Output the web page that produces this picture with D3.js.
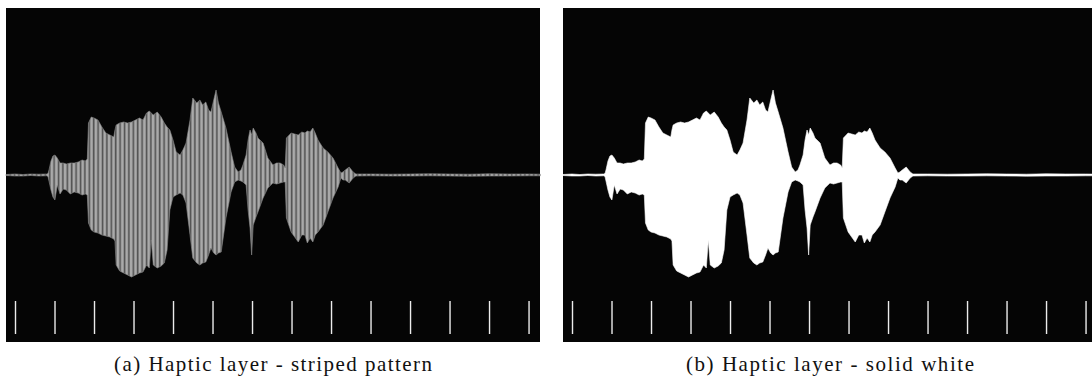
<!DOCTYPE html>
<html>
<head>
<meta charset="utf-8">
<script src="https://cdn.jsdelivr.net/npm/d3@7"></script>
<style>
  html, body { margin: 0; padding: 0; background: #ffffff; }
  svg { display: block; }
</style>
</head>
<body>
<svg id="chart" width="1092" height="378"></svg>
<script>
// ---- data (time in tick units, amplitudes above / below the centre line) ----
const times = [-0.23, 0.0, 0.2, 0.4, 0.6, 0.8, 0.835, 0.86, 0.91, 0.96, 1.01, 1.07, 1.14, 1.22, 1.30, 1.40, 1.50, 1.60, 1.70, 1.78, 1.83,
  1.86, 1.93, 2.00, 2.10, 2.20, 2.30, 2.40, 2.50, 2.53, 2.56, 2.65, 2.75, 2.85, 2.95, 3.05, 3.15, 3.24, 3.33, 3.40, 3.45, 3.50, 3.60,
  3.70, 3.78, 3.85, 3.92, 4.00, 4.08, 4.18, 4.25, 4.33, 4.43, 4.50, 4.60, 4.68, 4.75, 4.83, 4.90, 4.96, 5.03, 5.09, 5.15, 5.22, 5.34,
  5.47, 5.56, 5.65, 5.72, 5.77, 5.85, 5.90, 5.95, 5.99, 6.03, 6.10, 6.15, 6.28, 6.40, 6.53, 6.62, 6.71, 6.80, 6.84, 6.87, 6.99, 7.08,
  7.17, 7.26, 7.34, 7.40, 7.47, 7.54, 7.60, 7.67, 7.80, 7.92, 8.05, 8.18, 8.25, 8.30, 8.36, 8.46, 8.56, 8.63, 9.0, 9.5, 10.0, 10.5,
  11.0, 11.5, 12.0, 12.5, 13.0, 13.3];
const upperAmp = [0.005, 0.01, 0.005, 0.01, 0.008, 0.01, 0.015, 0.05, 0.14, 0.19, 0.20, 0.17, 0.12, 0.12, 0.11, 0.12, 0.12, 0.13, 0.15, 0.14, 0.16,
  0.52, 0.58, 0.57, 0.55, 0.48, 0.42, 0.40, 0.38, 0.45, 0.50, 0.52, 0.53, 0.52, 0.53, 0.55, 0.57, 0.55, 0.62, 0.64, 0.62, 0.60, 0.63,
  0.58, 0.52, 0.48, 0.45, 0.35, 0.23, 0.20, 0.25, 0.32, 0.55, 0.77, 0.72, 0.75, 0.70, 0.73, 0.65, 0.63, 0.75, 0.85, 0.72, 0.63, 0.47,
  0.23, 0.08, 0.03, 0.05, 0.10, 0.20, 0.35, 0.45, 0.40, 0.47, 0.42, 0.37, 0.32, 0.17, 0.10, 0.12, 0.12, 0.10, 0.07, 0.37, 0.42, 0.41,
  0.40, 0.43, 0.42, 0.44, 0.43, 0.47, 0.42, 0.35, 0.27, 0.23, 0.17, 0.07, 0.02, 0.03, 0.05, 0.08, 0.03, 0.01, 0.01, 0.008, 0.01, 0.012,
  0.01, 0.008, 0.012, 0.01, 0.01, 0.008];
const lowerAmp = [0.005, 0.01, 0.01, 0.005, 0.01, 0.008, 0.015, 0.06, 0.15, 0.22, 0.25, 0.10, 0.19, 0.14, 0.15, 0.19, 0.17, 0.18, 0.20, 0.19, 0.20,
  0.48, 0.55, 0.57, 0.58, 0.60, 0.61, 0.62, 0.64, 0.66, 0.90, 0.96, 0.98, 1.00, 1.02, 1.00, 0.98, 0.97, 0.90, 0.93, 0.65, 0.90, 0.93,
  0.91, 0.88, 0.75, 0.35, 0.22, 0.20, 0.18, 0.20, 0.28, 0.60, 0.83, 0.88, 0.90, 0.88, 0.87, 0.80, 0.73, 0.78, 0.80, 0.78, 0.77, 0.43,
  0.17, 0.07, 0.05, 0.06, 0.07, 0.10, 0.35, 0.53, 0.80, 0.50, 0.42, 0.37, 0.23, 0.13, 0.08, 0.09, 0.08, 0.07, 0.07, 0.43, 0.57, 0.62,
  0.67, 0.60, 0.60, 0.68, 0.63, 0.67, 0.60, 0.57, 0.50, 0.37, 0.23, 0.12, 0.03, 0.05, 0.05, 0.08, 0.03, 0.01, 0.008, 0.01, 0.01, 0.008,
  0.01, 0.012, 0.01, 0.01, 0.008, 0.008];
const tickValues = [0, 1, 2, 3, 4, 5, 6, 7, 8, 9, 10, 11, 12, 13];
const captions = ["(a) Haptic layer - striped pattern", "(b) Haptic layer - solid white"];

// ---- layout ----
const panelW = 534, panelH = 334, panelTop = 8;
const panelLefts = [6, 563];
const captionWidths = [318, 288];
const svg = d3.select("#chart");

const x = d3.scaleLinear().domain([-0.228, 13.29]).range([0, panelW]);
const y = d3.scaleLinear().domain([-1.67, 1.67]).range([panelH, 0]);

const data = times.map((t, i) => ({ t, up: upperAmp[i], lo: lowerAmp[i] }));
const area = d3.area()
  .x(d => x(d.t))
  .y1(d => y(d.up))
  .y0(d => y(-d.lo));

// stripe pattern for panel (a)
const defs = svg.append("defs");
const pat = defs.append("pattern")
  .attr("id", "stripes")
  .attr("patternUnits", "userSpaceOnUse")
  .attr("width", 4.4).attr("height", 10);
pat.append("rect").attr("width", 4.4).attr("height", 10).attr("fill", "#505050");
pat.append("rect").attr("x", 0.5).attr("width", 2.8).attr("height", 10).attr("fill", "#aaaaaa");

panelLefts.forEach((px, i) => {
  const g = svg.append("g").attr("transform", `translate(${px},${panelTop})`);
  g.append("rect").attr("width", panelW).attr("height", panelH).attr("fill", "#050505");

  g.append("path")
    .datum(data)
    .attr("d", area)
    .attr("fill", i === 0 ? "url(#stripes)" : "#ffffff")
    .attr("stroke", i === 0 ? "#8a8a8a" : "#ffffff")
    .attr("stroke-width", 0.6);

  // ticks
  const axis = d3.axisBottom(x).tickValues(tickValues).tickSize(33).tickFormat("");
  const ag = g.append("g").attr("transform", `translate(0,${293})`).call(axis);
  ag.select(".domain").remove();
  ag.selectAll(".tick line").attr("stroke", "#ececec").attr("stroke-width", 1.4);

  svg.append("text")
    .attr("x", px + panelW / 2)
    .attr("y", 371)
    .attr("text-anchor", "middle")
    .attr("font-family", "'Liberation Serif', 'DejaVu Serif', serif")
    .attr("font-size", 21)
    .attr("textLength", captionWidths[i])
    .attr("lengthAdjust", "spacing")
    .attr("fill", "#111")
    .text(captions[i]);
});
</script>
</body>
</html>
